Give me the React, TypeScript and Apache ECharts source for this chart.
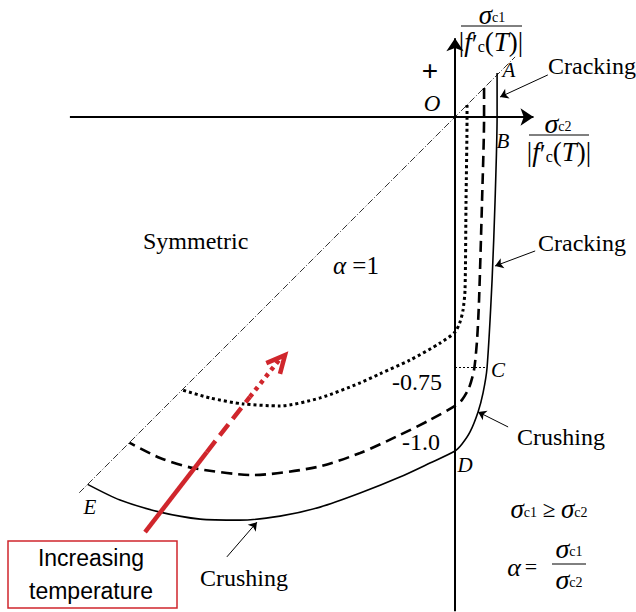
import { useEffect, useRef } from "react";
import * as echarts from "echarts";

// Normalised biaxial failure envelopes (σc1/|f'c(T)| vs σc2/|f'c(T)|)
const envelopeAmbient: number[][] = [
  [0.126, 0.132], [0.126, 0], [0.12, -0.249], [0.111, -0.488], [0.096, -0.75],
  [0.084, -0.826], [0.069, -0.883], [0.045, -0.943], [0.021, -0.979], [0, -1.0],
  [-0.075, -1.036], [-0.165, -1.078], [-0.284, -1.126], [-0.404, -1.168],
  [-0.524, -1.195], [-0.644, -1.207], [-0.763, -1.204], [-0.883, -1.183],
  [-1.003, -1.147], [-1.1, -1.1],
];
const envelopeMid: number[][] = [
  [0.087, 0.087], [0.087, 0], [0.081, -0.249], [0.072, -0.548], [0.066, -0.668],
  [0.057, -0.757], [0.042, -0.811], [0.021, -0.847], [0, -0.865], [-0.075, -0.907],
  [-0.165, -0.952], [-0.284, -1.006], [-0.413, -1.048], [-0.605, -1.072],
  [-0.784, -1.051], [-0.883, -1.021], [-0.975, -0.975],
];
const envelopeHot: number[][] = [
  [0.036, 0.036], [0.036, 0], [0.033, -0.249], [0.03, -0.518], [0.024, -0.578],
  [0.015, -0.614], [0, -0.644], [-0.045, -0.677], [-0.135, -0.728], [-0.225, -0.769],
  [-0.284, -0.796], [-0.404, -0.841], [-0.524, -0.865], [-0.635, -0.859],
  [-0.734, -0.841], [-0.817, -0.817],
];
// α = 1 line (equal biaxial stress)
const symmetricLine: number[][] = [[-1.125, -1.125], [0.18, 0.18]];
// marker from the σc1 axis to point C
const levelC: number[][] = [[0, -0.75], [0.096, -0.75]];
// axes extents
const axisH: number[][] = [[-1.153, 0], [0.235, 0]];
const axisV: number[][] = [[0, -1.48], [0, 0.236]];
// temperature arrow: solid, dashed and dotted parts plus head
const tempSolid: number[][] = [[-0.928, -1.243], [-0.743, -1.003]];
const tempDashed: number[][] = [[-0.743, -1.003], [-0.614, -0.838]];
const tempDotted: number[][] = [[-0.614, -0.838], [-0.524, -0.724]];
const tempHead: number[][] = [[-0.565, -0.737], [-0.509, -0.713], [-0.524, -0.769]];
// pointers from the labels to the envelope
const pointers: number[][][] = [
  [[0.278, 0.126], [0.135, 0.06]],
  [[0.24, -0.401], [0.12, -0.446]],
  [[0.159, -0.928], [0.069, -0.883]],
  [[-0.683, -1.317], [-0.593, -1.213]],
];

const SERIF = "'Liberation Serif', 'Times New Roman', serif";
const SANS = "'Liberation Sans', Arial, sans-serif";
const RED = "#d0262c";

const rich = (size: number, sigma: number) => ({
  i: { fontFamily: SERIF, fontStyle: "italic", fontSize: size, lineHeight: Math.round(size * 0.9), fill: "#000" },
  n: { fontFamily: SERIF, fontSize: size, lineHeight: Math.round(size * 0.9), fill: "#000" },
  s: { fontFamily: SERIF, fontStyle: "italic", fontSize: sigma, lineHeight: Math.round(sigma * 0.7), fill: "#000" },
  b: { fontFamily: SERIF, fontSize: Math.round(sigma * 0.5), lineHeight: Math.round(sigma * 0.5), fill: "#000", verticalAlign: "bottom" },
  c: { fontFamily: SERIF, fontSize: Math.round(size * 0.6), lineHeight: Math.round(size * 0.6), fill: "#000", verticalAlign: "bottom" },
  p: { fontFamily: SERIF, fontSize: size, lineHeight: Math.round(size * 0.7), fill: "#000", verticalAlign: "top" },
});

const txt = (
  text: string,
  x: number,
  y: number,
  size: number,
  opt: { align?: string; italic?: boolean; font?: string; sigma?: number } = {}
) => ({
  type: "text",
  x,
  y,
  silent: true,
  style: {
    text,
    fontFamily: opt.font ?? SERIF,
    fontSize: size,
    fontStyle: opt.italic ? "italic" : "normal",
    fill: "#000",
    align: opt.align ?? "left",
    verticalAlign: "middle",
    rich: rich(size, opt.sigma ?? size),
  },
});

const bar = (x1: number, x2: number, y: number) => ({
  type: "line",
  silent: true,
  shape: { x1, y1: y, x2, y2: y },
  style: { stroke: "#000", lineWidth: 1 },
});

const lineSeries = (data: number[][], style: Record<string, unknown>) => ({
  type: "line",
  data,
  showSymbol: false,
  symbol: "none",
  silent: true,
  smooth: 0.25,
  lineStyle: { color: "#000", width: 1.5, ...style },
  z: 3,
});

const arrows = (segs: number[][][], size: number, width: number) => ({
  type: "line",
  data: [],
  silent: true,
  markLine: {
    silent: true,
    symbol: ["none", "arrow"],
    symbolSize: size,
    label: { show: false },
    emphasis: { disabled: true },
    lineStyle: { color: "#000", width, type: "solid" },
    data: segs.map((p) => [{ coord: p[0] }, { coord: p[1] }]),
  },
});

export default function App() {
  const ref = useRef<HTMLDivElement>(null);

  useEffect(() => {
    if (!ref.current) return;
    const chart = echarts.init(ref.current, undefined, { renderer: "svg" });
    const denom = "{n||}{i|f}{p|′}{c|c}{n|(}{i|T}{n|)|}";

    chart.setOption({
      animation: false,
      backgroundColor: "#fff",
      grid: { left: 0, right: 0, top: 0, bottom: 0 },
      xAxis: { type: "value", min: -1.3623, max: 0.5419, show: false },
      yAxis: { type: "value", min: -1.482, max: 0.3503, show: false },
      series: [
        arrows([axisH, axisV], 13, 2),
        arrows(pointers, 8, 1),
        { ...lineSeries(symmetricLine, { width: 0.8, type: [7, 2, 1, 2] }), smooth: false },
        { ...lineSeries(levelC, { width: 1.2, type: [2, 2] }), smooth: false },
        lineSeries(envelopeAmbient, { width: 1.6 }),
        lineSeries(envelopeMid, { width: 2.6, type: [11, 6] }),
        lineSeries(envelopeHot, { width: 3, type: [3, 3] }),
        { ...lineSeries(tempSolid, { color: RED, width: 4.5 }), smooth: false, z: 5 },
        { ...lineSeries(tempDashed, { color: RED, width: 4.5, type: [14, 7] }), smooth: false, z: 5 },
        { ...lineSeries(tempDotted, { color: RED, width: 4.5, type: [4, 4.5] }), smooth: false, z: 5 },
        { ...lineSeries(tempHead, { color: RED, width: 4.5, join: "miter" }), smooth: false, z: 5 },
      ],
      graphic: [
        // σc1 axis title
        txt("{s|σ}{b|c1}", 492, 15, 22, { align: "center", sigma: 27 }),
        bar(461, 522, 26),
        txt(denom, 491, 42, 27, { align: "center" }),
        // σc2 axis title
        txt("{s|σ}{b|c2}", 558, 123, 24, { align: "center", sigma: 28 }),
        bar(529, 589, 135),
        txt(denom, 559, 152, 27, { align: "center" }),
        txt("+", 430, 70, 28, { align: "center", font: SANS }),
        txt("O", 432, 103, 23, { align: "center", italic: true }),
        txt("A", 509, 70, 21, { align: "center", italic: true }),
        txt("B", 503, 141, 21, { align: "center", italic: true }),
        txt("C", 498, 370, 21, { align: "center", italic: true }),
        txt("D", 465, 465, 21, { align: "center", italic: true }),
        txt("E", 90, 507, 21, { align: "center", italic: true }),
        txt("Cracking", 548, 66, 24),
        txt("Cracking", 538, 243, 24),
        txt("Crushing", 517, 437, 24),
        txt("Crushing", 200, 578, 24),
        txt("Symmetric", 143, 241, 24),
        txt("{i|α}{n| =1}", 333, 265, 25),
        txt("-0.75", 392, 382, 24),
        txt("-1.0", 402, 442, 24),
        txt("{s|σ}{b|c1}{n| ≥ }{s|σ}{b|c2}", 549, 509, 23, { align: "center", sigma: 27 }),
        txt("α", 514, 567, 26, { align: "center", italic: true }),
        txt("=", 531, 566, 22, { align: "center" }),
        txt("{s|σ}{b|c1}", 569, 548, 22, { align: "center", sigma: 28 }),
        bar(552, 586, 564),
        txt("{s|σ}{b|c2}", 569, 579, 22, { align: "center", sigma: 28 }),
        {
          type: "rect",
          silent: true,
          shape: { x: 8, y: 541, width: 169, height: 67 },
          style: { fill: "#fff", stroke: RED, lineWidth: 1.5 },
        },
        txt("Increasing", 91, 558, 23, { align: "center", font: SANS }),
        txt("temperature", 91, 591, 23, { align: "center", font: SANS }),
      ],
    });

    return () => chart.dispose();
  }, []);

  return (
    <div
      ref={ref}
      style={{ position: "fixed", left: 0, top: 0, width: 636, height: 612, background: "#fff" }}
    />
  );
}
